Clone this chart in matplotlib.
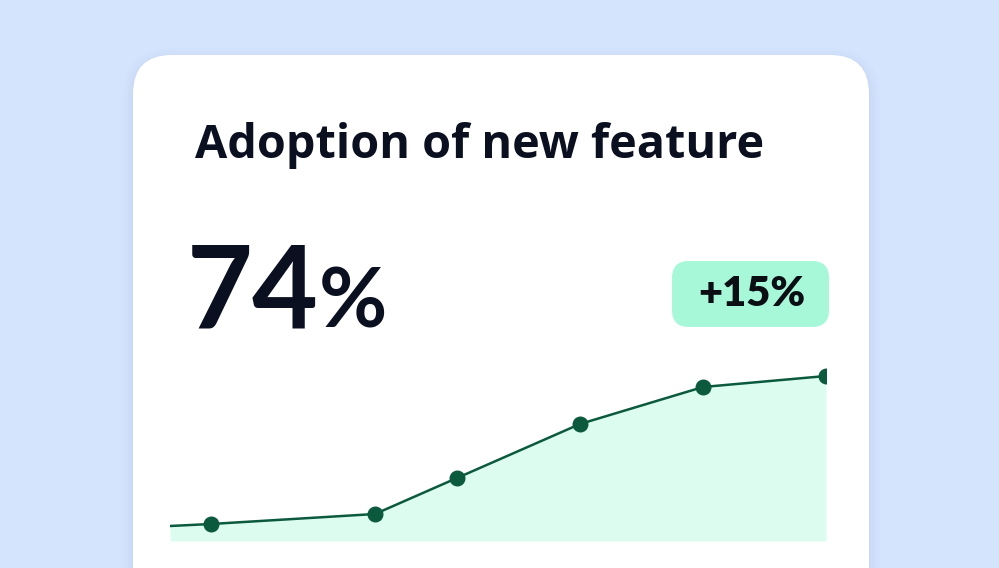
import matplotlib
matplotlib.use("Agg")
import matplotlib.pyplot as plt
from matplotlib.patches import FancyBboxPatch

# ---- data ----
title = "Adoption of new feature"
kpi_value = "74"
kpi_unit = "%"
delta_label = "+15%"
x_vals = [0, 1, 5, 7, 10, 13, 16]
y_vals = [59.0, 59.2, 60.2, 63.8, 69.2, 72.9, 74.0]
marker_idx = [1, 2, 3, 4, 5, 6]

W, H = 999, 568
BG = "#d5e4fd"
LINE = "#0c5a3e"
FILL = "#ddfcf0"
BADGE = "#a6f8d9"
TEXT = "#0a1020"

fig = plt.figure(figsize=(W / 100, H / 100), dpi=100, facecolor=BG)

bg = fig.add_axes([0, 0, 1, 1], zorder=0)
bg.set_xlim(0, W)
bg.set_ylim(H, 0)
bg.axis("off")

for i, a in enumerate([0.05, 0.04, 0.03, 0.02]):
    d = 2 + i * 3
    bg.add_patch(FancyBboxPatch((133 - d, 55 - d + 4), 736 + 2 * d, 600,
                                boxstyle=f"round,pad=0,rounding_size={39 + d}",
                                fc="#8aa6d8", ec="none", alpha=a))
bg.add_patch(FancyBboxPatch((133, 55), 736, 600,
                            boxstyle="round,pad=0,rounding_size=39",
                            fc="white", ec="none"))
bg.add_patch(FancyBboxPatch((672, 261), 157, 66,
                            boxstyle="round,pad=0,rounding_size=17",
                            fc=BADGE, ec="none"))

ttl = bg.text(195, 158, title, fontsize=30, fontweight="bold", family="Open Sans",
              color=TEXT, va="baseline", ha="left")
fig.canvas.draw()
w = ttl.get_window_extent().width
ttl.set_fontsize(30 * 568 / w)

bg.text(187, 327, kpi_value, fontsize=82, fontweight="bold", family="Lato",
        color=TEXT, va="baseline", ha="left")
bg.text(319, 327, kpi_unit, fontsize=60, fontweight="bold", family="Lato",
        color=TEXT, va="baseline", ha="left")
bg.text(752, 306, delta_label, fontsize=30, fontweight="heavy", family="Lato",
        color="#0b0f14", va="baseline", ha="center")

x0, x1, ybot, ytop = 170, 826, 541, 360
ax = fig.add_axes([x0 / W, (H - ybot) / H, (x1 - x0) / W, (ybot - ytop) / H], zorder=1)
ax.patch.set_alpha(0)
ymin, ymax = 57.5, 75.6
ax.fill_between(x_vals, y_vals, ymin, color=FILL, lw=0, zorder=1)
ax.plot(x_vals, y_vals, color=LINE, lw=1.8, zorder=2,
        marker="o", markersize=10.5, markevery=marker_idx,
        markerfacecolor=LINE, markeredgecolor=LINE)
ax.set_xlim(0, 16)
ax.set_ylim(ymin, ymax)
ax.axis("off")

fig.savefig("out.png", dpi=100, facecolor=BG)
